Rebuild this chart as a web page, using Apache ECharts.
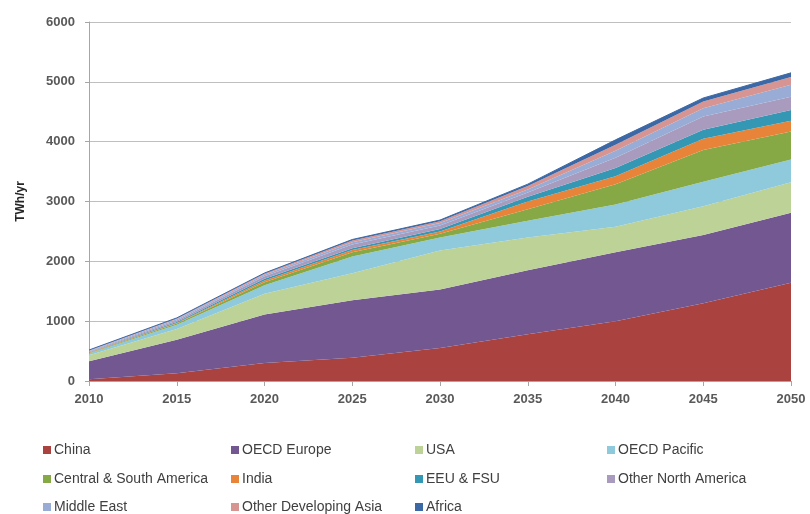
<!DOCTYPE html>
<html>
<head>
<meta charset="utf-8">
<script src="https://cdn.jsdelivr.net/npm/echarts@6/dist/echarts.min.js"></script>
<style>
  html, body { margin: 0; padding: 0; background: #fff; }
  #chart { width: 810px; height: 514px; }
</style>
</head>
<body>
<div id="chart"></div>
<script>
// years on the x axis
const years = ['2010', '2015', '2020', '2025', '2030', '2035', '2040', '2045', '2050'];

// TWh/yr per region (stacked, bottom to top)
const china        = [30, 130, 300, 390, 550, 780, 1000, 1300, 1640];
const oecdEurope   = [300, 560, 810, 960, 980, 1070, 1150, 1140, 1170];
const usa          = [100, 180, 350, 450, 650, 550, 430, 480, 510];
const oecdPacific  = [30, 70, 140, 280, 220, 280, 370, 410, 380];
const centralSouth = [10, 20, 50, 70, 60, 190, 340, 530, 470];
const india        = [5, 10, 30, 40, 40, 130, 130, 190, 180];
const eeuFsu       = [5, 15, 30, 30, 40, 80, 140, 150, 180];
const otherNA      = [15, 25, 40, 60, 60, 70, 170, 220, 220];
const middleEast   = [10, 20, 25, 40, 40, 50, 120, 140, 200];
const otherAsia    = [7, 15, 20, 30, 30, 60, 100, 110, 130];
const africa       = [6, 10, 10, 15, 20, 30, 80, 60, 70];

const yTicks = [0, 1000, 2000, 3000, 4000, 5000, 6000];

const regions = [
  { name: 'China', data: china, color: '#AA4340' },
  { name: 'OECD Europe', data: oecdEurope, color: '#725791' },
  { name: 'USA', data: usa, color: '#BDD296' },
  { name: 'OECD Pacific', data: oecdPacific, color: '#8FC9DC' },
  { name: 'Central & South America', data: centralSouth, color: '#86A945' },
  { name: 'India', data: india, color: '#E8843A' },
  { name: 'EEU & FSU', data: eeuFsu, color: '#3498B5' },
  { name: 'Other North America', data: otherNA, color: '#A99BBE' },
  { name: 'Middle East', data: middleEast, color: '#98ACD6' },
  { name: 'Other Developing Asia', data: otherAsia, color: '#D69593' },
  { name: 'Africa', data: africa, color: '#3C69A6' }
];

const chart = echarts.init(document.getElementById('chart'));

const labelFont = { color: '#595959', fontSize: 13, fontWeight: 'bold', fontFamily: 'Liberation Sans' };

// legend grid: 4 columns x 3 rows, filled row by row
const colLeft = [38, 226, 410, 602];
const rowTop = [438, 467, 495];

const legends = regions.map((r, i) => ({
  left: colLeft[i % 4],
  top: rowTop[Math.floor(i / 4)],
  itemWidth: 8,
  itemHeight: 8,
  itemGap: 4,
  icon: 'rect',
  data: [r.name],
  textStyle: { color: '#404040', fontSize: 14, fontFamily: 'Liberation Sans', padding: [0, 0, 0, -2] }
}));

const option = {
  animation: false,
  grid: { left: 89, right: 19, top: 22, bottom: 133 },
  legend: legends,
  xAxis: {
    type: 'category',
    data: years,
    boundaryGap: false,
    axisLine: { lineStyle: { color: '#A6A6A6' } },
    axisTick: { show: true, length: 5, lineStyle: { color: '#A6A6A6' } },
    axisLabel: Object.assign({ margin: 12 }, labelFont),
    splitLine: { show: false }
  },
  yAxis: {
    type: 'value',
    min: yTicks[0],
    max: yTicks[yTicks.length - 1],
    interval: 1000,
    name: 'TWh/yr',
    nameLocation: 'middle',
    nameGap: 62,
    nameTextStyle: { color: '#262626', fontSize: 12, fontWeight: 'bold', fontFamily: 'Liberation Sans' },
    axisLine: { show: true, lineStyle: { color: '#A6A6A6' } },
    axisTick: { show: true, length: 4, lineStyle: { color: '#A6A6A6' } },
    axisLabel: Object.assign({ margin: 14, formatter: v => String(v) }, labelFont),
    splitLine: { lineStyle: { color: '#BFBFBF', width: 1 } }
  },
  series: regions.map((r, i) => ({
    name: r.name,
    type: 'line',
    stack: 'total',
    data: r.data,
    showSymbol: false,
    symbol: 'none',
    itemStyle: { color: r.color },
    lineStyle: { width: i === regions.length - 1 ? 1 : 0, color: r.color },
    areaStyle: { color: r.color, opacity: 1 }
  }))
};

chart.setOption(option);
</script>
</body>
</html>
